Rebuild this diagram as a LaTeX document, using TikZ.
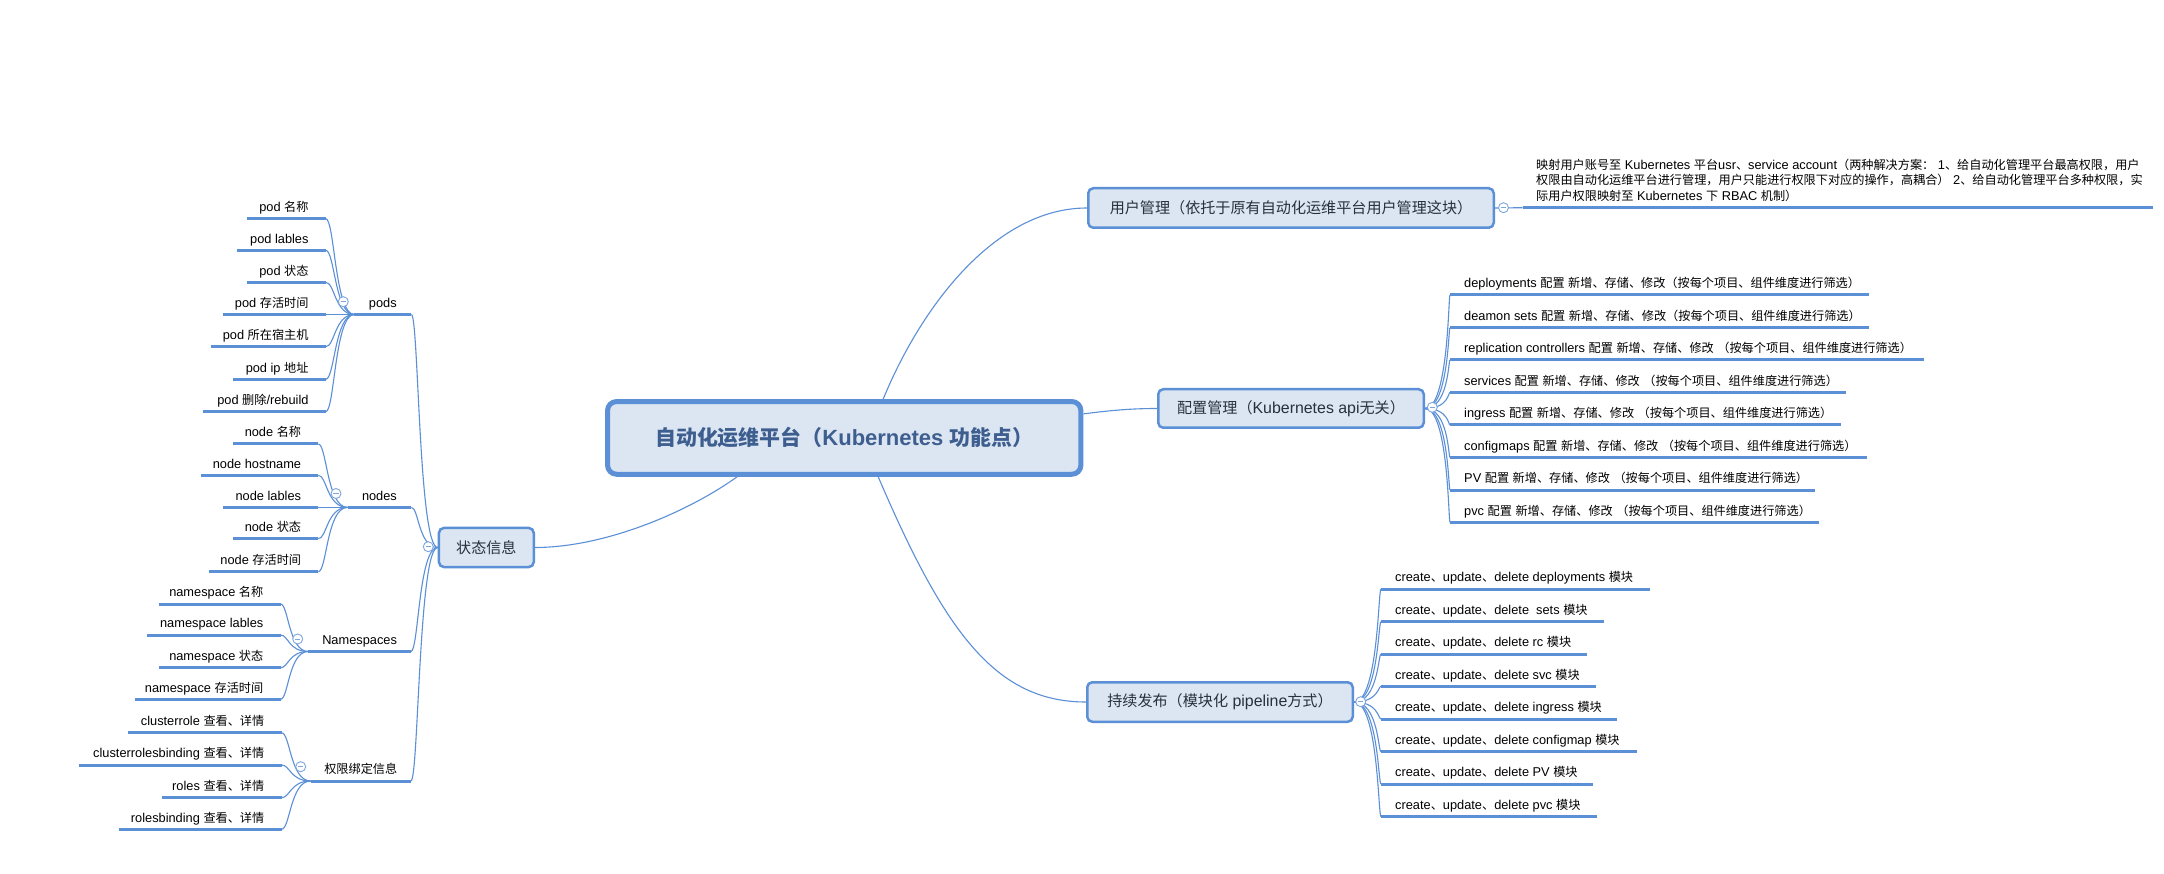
\documentclass[tikz,border=0pt]{standalone}
\usepackage{fontspec}
\setmainfont{Liberation Sans}
\newfontfamily\cjkf{Noto Sans CJK SC}[Scale=0.95]
\XeTeXinterchartokenstate=1
\newXeTeXintercharclass\cjkcls
\newcount\cjkcnt
\newcommand\setcjkrange[2]{\cjkcnt=#1\relax
  \loop\XeTeXcharclass\cjkcnt=\cjkcls\relax
  \ifnum\cjkcnt<#2\relax\advance\cjkcnt by 1\relax\repeat}
\setcjkrange{"3000}{"303F}
\setcjkrange{"4E00}{"9FFF}
\setcjkrange{"FF00}{"FFEF}
\XeTeXinterchartoks 0 \cjkcls = {\cjkf}
\XeTeXinterchartoks 4095 \cjkcls = {\cjkf}
\XeTeXinterchartoks \cjkcls 0 = {\rmfamily}
\XeTeXinterchartoks \cjkcls 4095 = {\rmfamily}

\definecolor{lineblue}{HTML}{5B8FD6}
\definecolor{boxfill}{HTML}{DCE6F2}
\definecolor{btnblue}{HTML}{7DA6DE}
\definecolor{roottext}{HTML}{3D5E8E}
\definecolor{branchtext}{HTML}{26313F}

\newcommand\leaffont{\fontsize{12.8pt}{15.5pt}\selectfont}
\newcommand\branchfont{\fontsize{15.9pt}{19pt}\selectfont}
\newcommand\rootfont{\fontsize{22pt}{26pt}\selectfont\bfseries}

% right leaf: name, left x, right x, line y, text
\newcommand\rleaf[5]{%
  \pgfmathsetmacro\lfw{#3-#2}%
  \node[leaf, anchor=south west] (#1) at (#2,#4) {\makebox[\lfw pt][l]{\hspace{14pt}#5}};
  \draw[mline] (#1.south west) -- (#1.south east);}
% left leaf: name, left x, right x, line y, text
\newcommand\lleaf[5]{%
  \pgfmathsetmacro\lfw{#3-#2}%
  \node[leaf, anchor=south east] (#1) at (#3,#4) {\makebox[\lfw pt][r]{#5\hspace{17pt}}};
  \draw[mline] (#1.south west) -- (#1.south east);}
% centred sub-topic: name, left x, right x, line y, text
\newcommand\cleaf[5]{%
  \pgfmathsetmacro\lfw{#3-#2}%
  \node[leaf, anchor=south west] (#1) at (#2,#4) {\makebox[\lfw pt][c]{#5}};
  \draw[mline] (#1.south west) -- (#1.south east);}

\begin{document}
\begin{tikzpicture}[x=1pt,y=-1pt,
  mline/.style={draw=lineblue, line width=3pt},
  conn/.style={draw=lineblue, line width=1.1pt},
  leaf/.style={inner xsep=0pt, inner ysep=7pt, text depth=0pt, font=\leaffont, text=black},
  branch/.style={draw=lineblue, fill=boxfill, line width=2.5pt, rounded corners=5pt, inner sep=0pt, font=\branchfont, text=branchtext},
  rootbox/.style={draw=lineblue, fill=boxfill, line width=5pt, rounded corners=9pt, inner sep=0pt, font=\rootfont, text=roottext},
  btn/.style={circle, draw=btnblue, fill=white, line width=0.9pt, minimum size=10pt, inner sep=0pt,
    path picture={\draw[btnblue, line width=0.9pt] ([xshift=-2.6pt]path picture bounding box.center) -- ([xshift=2.6pt]path picture bounding box.center);}}
]
\fill[white] (0,0) rectangle (2164,874);

% ---------- root and main topics ----------
\node[rootbox, minimum width=473.3pt, minimum height=72.7pt] (root) at (844.2,437.9) {自动化运维平台（Kubernetes 功能点）};
\node[branch, minimum width=405.5pt, minimum height=39.5pt] (um) at (1291,208) {用户管理（依托于原有自动化运维平台用户管理这块）};
\node[branch, minimum width=265.5pt, minimum height=38.5pt] (cfg) at (1291,408.5) {配置管理（Kubernetes api无关）};
\node[branch, minimum width=265.5pt, minimum height=39.5pt] (cd) at (1220,702) {持续发布（模块化 pipeline方式）};
\node[branch, minimum width=94.8pt, minimum height=39.1pt] (st) at (486.35,547.5) {状态信息};

\draw[conn] ([xshift=39pt]root.north) .. controls (921,307) and (995,208) .. (um.west);
\draw[conn] ([yshift=24pt]root.east) .. controls (1110,410.5) and (1130,408.5) .. (cfg.west);
\draw[conn] ([xshift=34pt]root.south) .. controls (945,633) and (996,702) .. (cd.west);
\draw[conn] ([xshift=-107pt]root.south) .. controls (688,512) and (605,547.5) .. (st.east);

% ---------- user management ----------
\node[leaf, anchor=south west] (u1) at (1522.7,207.7) {\makebox[630.3pt][l]{\hspace{13.3pt}\begin{tabular}[b]{@{}l@{}}映射用户账号至 Kubernetes 平台usr、service account（两种解决方案： 1、给自动化管理平台最高权限，用户\\权限由自动化运维平台进行管理，用户只能进行权限下对应的操作，高耦合） 2、给自动化管理平台多种权限，实\\际用户权限映射至 Kubernetes 下 RBAC 机制）\end{tabular}}};
\draw[mline] (u1.south west) -- (u1.south east);
\draw[conn] (um.east) -- (u1.south west);

% ---------- configuration management ----------
\rleaf{c1}{1450}{1869}{295}{deployments 配置 新增、存储、修改（按每个项目、组件维度进行筛选）}
\rleaf{c2}{1450}{1869}{327.7}{deamon sets 配置 新增、存储、修改（按每个项目、组件维度进行筛选）}
\rleaf{c3}{1450}{1924}{360}{replication controllers 配置 新增、存储、修改 （按每个项目、组件维度进行筛选）}
\rleaf{c4}{1450}{1846}{392.3}{services 配置 新增、存储、修改 （按每个项目、组件维度进行筛选）}
\rleaf{c5}{1450}{1841}{425}{ingress 配置 新增、存储、修改 （按每个项目、组件维度进行筛选）}
\rleaf{c6}{1450}{1867}{457.3}{configmaps 配置 新增、存储、修改 （按每个项目、组件维度进行筛选）}
\rleaf{c7}{1450}{1815}{490}{PV 配置 新增、存储、修改 （按每个项目、组件维度进行筛选）}
\rleaf{c8}{1450}{1819}{522.3}{pvc 配置 新增、存储、修改 （按每个项目、组件维度进行筛选）}
\coordinate (cfgc) at (1448.4,408.5);
\foreach \i in {1,...,8}
  \draw[conn] (cfg.east) .. controls (cfgc) and (cfgc |- c\i.south west) .. (c\i.south west);

% ---------- continuous delivery ----------
\rleaf{d1}{1381}{1650}{589}{create、update、delete deployments 模块}
\rleaf{d2}{1381}{1604}{621.7}{create、update、delete\ \ sets 模块}
\rleaf{d3}{1381}{1587}{654}{create、update、delete rc 模块}
\rleaf{d4}{1381}{1596}{686.3}{create、update、delete svc 模块}
\rleaf{d5}{1381}{1617}{719}{create、update、delete ingress 模块}
\rleaf{d6}{1381}{1637}{751.7}{create、update、delete configmap 模块}
\rleaf{d7}{1381}{1592.5}{784}{create、update、delete PV 模块}
\rleaf{d8}{1381}{1597}{816.7}{create、update、delete pvc 模块}
\coordinate (cdc) at (1378.2,702);
\foreach \i in {1,...,8}
  \draw[conn] (cd.east) .. controls (cdc) and (cdc |- d\i.south west) .. (d\i.south west);

% ---------- status information ----------
\cleaf{pods}{354.3}{411}{314.5}{pods}
\cleaf{nodes}{347.5}{411}{507.4}{nodes}
\cleaf{ns}{308.3}{410.5}{651.5}{Namespaces}
\cleaf{perm}{310.7}{410.5}{781}{权限绑定信息}
\coordinate (stc) at (418.6,547.5);
\foreach \n in {pods,nodes,ns,perm}
  \draw[conn] (st.west) .. controls (stc) and (stc |- \n.south east) .. (\n.south east);

\lleaf{p1}{247.7}{325.7}{218.7}{pod 名称}
\lleaf{p2}{237.7}{325.7}{250.3}{pod lables}
\lleaf{p3}{247.7}{325.7}{282.3}{pod 状态}
\lleaf{p4}{223.3}{325.7}{314.5}{pod 存活时间}
\lleaf{p5}{211.7}{325.7}{346.7}{pod 所在宿主机}
\lleaf{p6}{233.3}{325.7}{379.3}{pod ip 地址}
\lleaf{p7}{203.3}{325.7}{411.7}{pod 删除/rebuild}
\coordinate (podc) at (334.7,314.5);
\foreach \i in {1,...,7}
  \draw[conn] (pods.south west) .. controls (podc) and (podc |- p\i.south east) .. (p\i.south east);

\lleaf{n1}{233.3}{318.3}{444}{node 名称}
\lleaf{n2}{201}{318.3}{475.3}{node hostname}
\lleaf{n3}{223.3}{318.3}{507.4}{node lables}
\lleaf{n4}{233.3}{318.3}{538.7}{node 状态}
\lleaf{n5}{209}{318.3}{571.7}{node 存活时间}
\coordinate (nodc) at (326.8,507.4);
\foreach \i in {1,...,5}
  \draw[conn] (nodes.south west) .. controls (nodc) and (nodc |- n\i.south east) .. (n\i.south east);

\lleaf{s1}{159}{280.5}{604}{namespace 名称}
\lleaf{s2}{147.7}{280.5}{635}{namespace lables}
\lleaf{s3}{159}{280.5}{667.7}{namespace 状态}
\lleaf{s4}{135}{280.5}{699.3}{namespace 存活时间}
\coordinate (nsc) at (288.5,651.5);
\foreach \i in {1,...,4}
  \draw[conn] (ns.south west) .. controls (nsc) and (nsc |- s\i.south east) .. (s\i.south east);

\lleaf{r1}{128.3}{281.5}{732.7}{clusterrole 查看、详情}
\lleaf{r2}{79.3}{281.5}{765}{clusterrolesbinding 查看、详情}
\lleaf{r3}{162.3}{281.5}{797.7}{roles 查看、详情}
\lleaf{r4}{119}{281.5}{829.3}{rolesbinding 查看、详情}
\coordinate (permc) at (290.2,781);
\foreach \i in {1,...,4}
  \draw[conn] (perm.south west) .. controls (permc) and (permc |- r\i.south east) .. (r\i.south east);

% ---------- collapse buttons ----------
\node[btn] (umbtn) at (1503.5,207.7) {};
\node[btn] (cfgbtn) at (1432.3,407.3) {};
\node[btn] (cdbtn) at (1360.7,701.7) {};
\node[btn] (stbtn) at (428.3,546.7) {};
\node[btn] (podsbtn) at (343.3,301.7) {};
\node[btn] (nodesbtn) at (336,493.5) {};
\node[btn] (nsbtn) at (297.7,639) {};
\node[btn] (permbtn) at (300.7,766.7) {};
\end{tikzpicture}
\end{document}
